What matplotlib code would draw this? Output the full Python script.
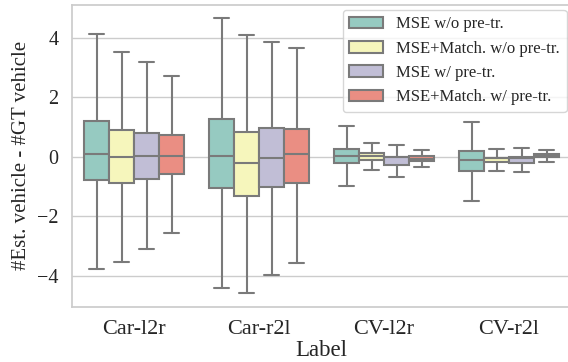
import numpy as np
import matplotlib
matplotlib.use("Agg")
import matplotlib.pyplot as plt
import seaborn as sns
from matplotlib.patches import Patch

categories = ["Car-l2r", "Car-r2l", "CV-l2r", "CV-r2l"]
methods = ["MSE w/o pre-tr.", "MSE+Match. w/o pre-tr.",
           "MSE w/ pre-tr.", "MSE+Match. w/ pre-tr."]

# per method: rows = methods, columns = categories
whislo = np.array([[-3.75, -4.40, -0.97, -1.47],
                   [-3.54, -4.57, -0.45, -0.47],
                   [-3.11, -3.97, -0.68, -0.50],
                   [-2.57, -3.57, -0.35, -0.16]])
q1 = np.array([[-0.77, -1.04, -0.22, -0.47],
               [-0.87, -1.32, -0.10, -0.19],
               [-0.76, -1.03, -0.27, -0.21],
               [-0.58, -0.87, -0.13, -0.02]])
med = np.array([[0.09, 0.04, 0.01, -0.10],
                [0.00, -0.21, 0.02, -0.05],
                [0.04, -0.03, -0.01, -0.03],
                [0.04, 0.10, -0.07, 0.06]])
q3 = np.array([[1.20, 1.27, 0.27, 0.19],
               [0.90, 0.84, 0.12, -0.03],
               [0.81, 0.95, 0.00, -0.02],
               [0.73, 0.93, 0.01, 0.10]])
whishi = np.array([[4.12, 4.64, 1.02, 1.18],
                   [3.52, 4.10, 0.47, 0.26],
                   [3.17, 3.85, 0.39, 0.28],
                   [2.71, 3.66, 0.21, 0.22]])

sns.set_theme(style="whitegrid")
plt.rcParams['font.family'] = ['Liberation Serif', 'DejaVu Serif']

colors = [sns.desaturate(c, 0.75) for c in sns.color_palette("Set3", 4)]
line_col = "#7a7a7a"

fig = plt.figure(figsize=(5.68, 3.62), dpi=100)
ax = fig.add_axes([0.1259, 0.1528, 0.8803, 0.8342])

width = 0.2
x = np.arange(len(categories))
for m in range(len(methods)):
    stats = []
    for c in range(len(categories)):
        stats.append(dict(whislo=whislo[m, c], q1=q1[m, c], med=med[m, c],
                          q3=q3[m, c], whishi=whishi[m, c], fliers=[]))
    pos = x - 0.3 + m * width
    ax.bxp(stats, positions=pos, widths=width, capwidths=0.12,
           patch_artist=True, showfliers=False, manage_ticks=False,
           boxprops=dict(facecolor=colors[m], edgecolor=line_col, linewidth=1.5),
           medianprops=dict(color=line_col, linewidth=1.5),
           whiskerprops=dict(color=line_col, linewidth=1.5),
           capprops=dict(color=line_col, linewidth=1.5))

ax.set_xlim(-0.5, 3.5)
ax.set_xticks(x)
ax.set_xticklabels(categories, fontsize=16)
ax.tick_params(axis='y', labelsize=14.5)
ax.set_yticks([-4, -2, 0, 2, 4])
ax.grid(axis='x', visible=False)
ax.set_xlabel("Label", fontsize=16.5, labelpad=1)
ax.set_ylabel("#Est. vehicle - #GT vehicle", fontsize=15)

handles = [Patch(facecolor=colors[m], edgecolor=line_col, linewidth=1.5,
                 label=methods[m]) for m in range(len(methods))]
ax.legend(handles=handles, loc="upper right", fontsize=12,
          borderaxespad=0.3)

fig.savefig("out.png", dpi=100)
